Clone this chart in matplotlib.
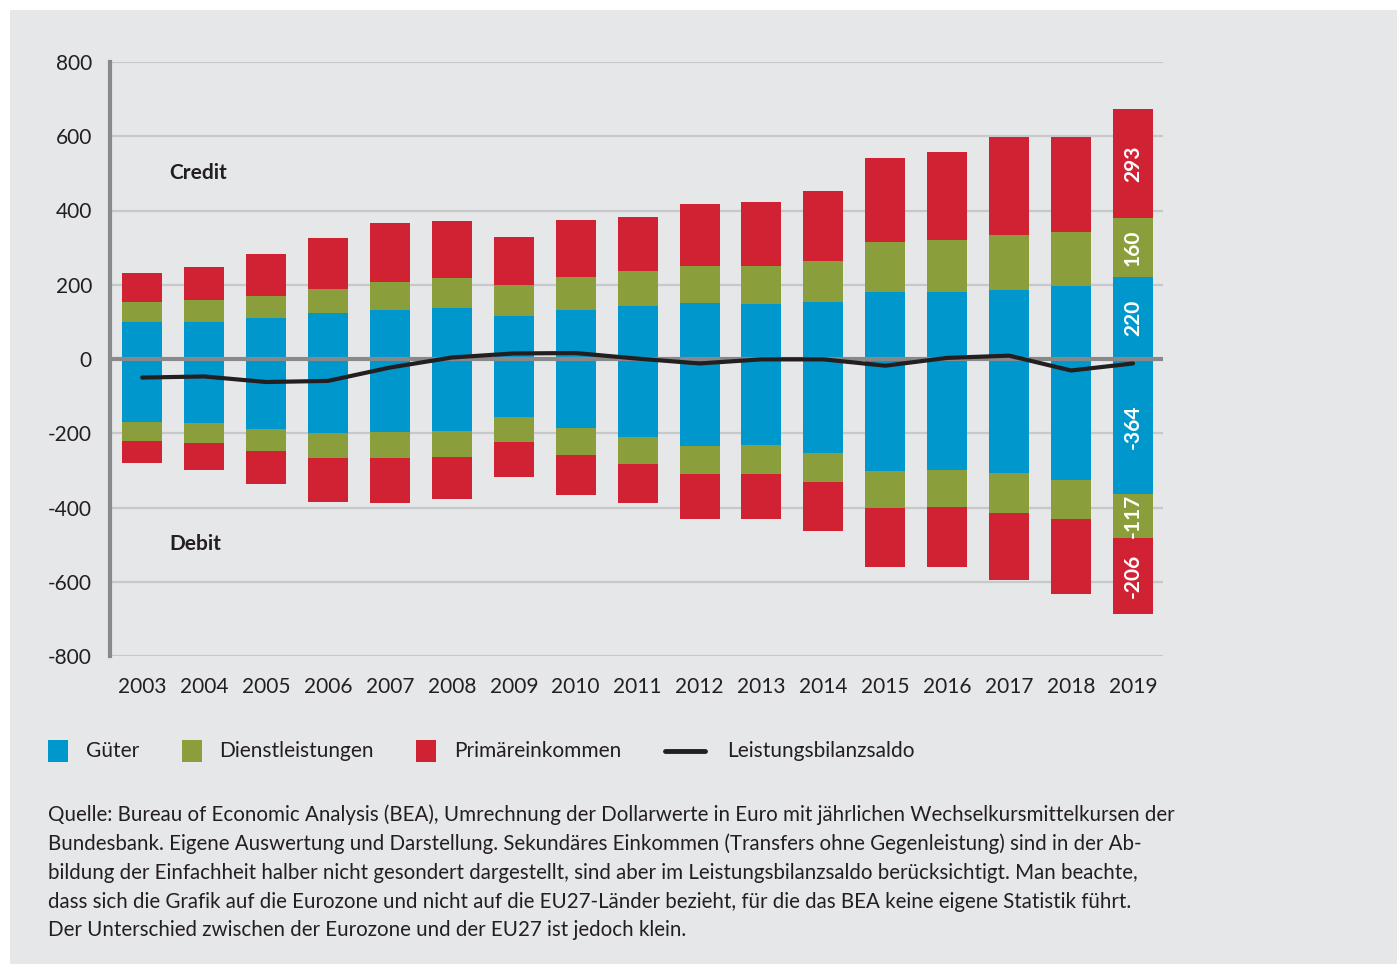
import matplotlib
matplotlib.use("Agg")
import matplotlib.pyplot as plt
from matplotlib.patches import Rectangle
from matplotlib.lines import Line2D
import numpy as np

plt.rcParams['font.family'] = ['Lato', 'DejaVu Sans']

years = ['2003', '2004', '2005', '2006', '2007', '2008', '2009', '2010', '2011',
         '2012', '2013', '2014', '2015', '2016', '2017', '2018', '2019']
gueter_credit = [100, 100, 110, 124, 132, 137, 116, 133, 142, 151, 149, 154, 181, 181, 187, 197, 220]
dienst_credit = [54, 59, 59, 65, 75, 81, 83, 89, 94, 99, 102, 110, 135, 140, 148, 145, 160]
primaer_credit = [78, 89, 113, 137, 159, 155, 129, 153, 147, 168, 172, 189, 226, 237, 264, 256, 293]
gueter_debit = [-170, -172, -188, -199, -197, -194, -156, -185, -209, -233, -231, -252, -303, -298, -306, -327, -364]
dienst_debit = [-51, -54, -59, -67, -70, -70, -67, -73, -73, -78, -78, -78, -97, -100, -108, -103, -117]
primaer_debit = [-59, -73, -89, -119, -121, -113, -94, -108, -105, -121, -121, -132, -161, -161, -180, -202, -206]
saldo = [-50, -47, -62, -59, -23, 4, 15, 16, 1, -12, -1, -1, -18, 3, 9, -31, -12]

legend_labels = ['Güter', 'Dienstleistungen', 'Primäreinkommen', 'Leistungsbilanzsaldo']
yticks = [800, 600, 400, 200, 0, -200, -400, -600, -800]

footnote = ("Quelle: Bureau of Economic Analysis (BEA), Umrechnung der Dollarwerte in Euro mit jährlichen Wechselkursmittelkursen der\n"
            "Bundesbank. Eigene Auswertung und Darstellung. Sekundäres Einkommen (Transfers ohne Gegenleistung) sind in der Ab-\n"
            "bildung der Einfachheit halber nicht gesondert dargestellt, sind aber im Leistungsbilanzsaldo berücksichtigt. Man beachte,\n"
            "dass sich die Grafik auf die Eurozone und nicht auf die EU27-Länder bezieht, für die das BEA keine eigene Statistik führt.\n"
            "Der Unterschied zwischen der Eurozone und der EU27 ist jedoch klein.")

BLUE = '#0098cc'
GREEN = '#8a9f3c'
RED = '#d12234'
BG = '#e6e7e9'
TXT = '#231f20'

W, H = 1397, 964
fig = plt.figure(figsize=(W / 100, H / 100), dpi=100)
fig.patch.set_facecolor('white')
bgrect = Rectangle((10 / W, -0.01), 1, (H - 10) / H + 0.01, transform=fig.transFigure,
                   facecolor=BG, edgecolor='none', zorder=-10)
fig.patches.append(bgrect)

ax = fig.add_axes([110 / W, (H - 656) / H, (1163 - 110) / W, (656 - 62) / H])
ax.set_zorder(2)
ax.patch.set_alpha(0)

x = np.arange(len(years))
bw = 0.646
gc = np.array(gueter_credit); dc = np.array(dienst_credit); pc = np.array(primaer_credit)
gd = np.array(gueter_debit); dd = np.array(dienst_debit); pd_ = np.array(primaer_debit)

ax.bar(x, gc, bw, color=BLUE, zorder=2)
ax.bar(x, dc, bw, bottom=gc, color=GREEN, zorder=2)
ax.bar(x, pc, bw, bottom=gc + dc, color=RED, zorder=2)
ax.bar(x, gd, bw, color=BLUE, zorder=2)
ax.bar(x, dd, bw, bottom=gd, color=GREEN, zorder=2)
ax.bar(x, pd_, bw, bottom=gd + dd, color=RED, zorder=2)

ax.axhline(0, color='#88898b', lw=3.0, zorder=3)
ax.plot(x, saldo, color=TXT, lw=3.0, zorder=4, solid_capstyle='round', solid_joinstyle='round')

for yv in yticks:
    if yv != 0:
        ax.axhline(yv, color='#c7c8ca', lw=1.6, zorder=1)

ax.set_xlim(-0.52, len(years) - 1 + 0.484)
ax.set_ylim(-800, 800)
ax.set_yticks(yticks)
ax.set_yticklabels([str(v) for v in yticks])
ax.set_xticks(x)
ax.set_xticklabels(years)
ax.tick_params(axis='both', length=0, labelsize=15, colors=TXT)
ax.tick_params(axis='y', pad=13)
ax.tick_params(axis='x', pad=15)
for s in ['top', 'right', 'bottom']:
    ax.spines[s].set_visible(False)
ax.spines['left'].set_color('#88898b')
ax.spines['left'].set_linewidth(3.0)

ax.text(0.9, 500, 'Credit', fontsize=15, fontweight='bold', color=TXT, ha='center', va='center')
ax.text(0.86, -498, 'Debit', fontsize=15, fontweight='bold', color=TXT, ha='center', va='center')

# value labels for 2019
i = len(years) - 1
segs = [(gc[i] / 2, gc[i]), (gc[i] + dc[i] / 2, dc[i]), (gc[i] + dc[i] + pc[i] / 2, pc[i]),
        (gd[i] / 2, gd[i]), (gd[i] + dd[i] / 2, dd[i]), (gd[i] + dd[i] + pd_[i] / 2, pd_[i])]
for yc, v in segs:
    ax.text(i, yc, str(v), rotation=90, color='white', fontsize=15, fontweight='bold',
            ha='center', va='center', zorder=5)

# legend
ly = (H - 751) / H
items = [(48, 86, BLUE), (182, 219, GREEN), (416, 454, RED)]
for (sx, tx, c), lab in zip(items, legend_labels[:3]):
    fig.patches.append(Rectangle((sx / W, (H - 762) / H), 20 / W, 22 / H, transform=fig.transFigure,
                                 facecolor=c, edgecolor='none'))
    fig.text(tx / W, ly, lab, fontsize=15, color=TXT, ha='left', va='center')
fig.lines.append(Line2D([665 / W, 705 / W], [ly, ly], transform=fig.transFigure, color=TXT, lw=3.5,
                        solid_capstyle='round'))
fig.text(727 / W, ly, legend_labels[3], fontsize=15, color=TXT, ha='left', va='center')

fig.text(48 / W, (H - 804) / H, footnote, fontsize=14.8, color=TXT, ha='left', va='top', linespacing=1.545)

fig.savefig('out.png', dpi=100, facecolor='white')
